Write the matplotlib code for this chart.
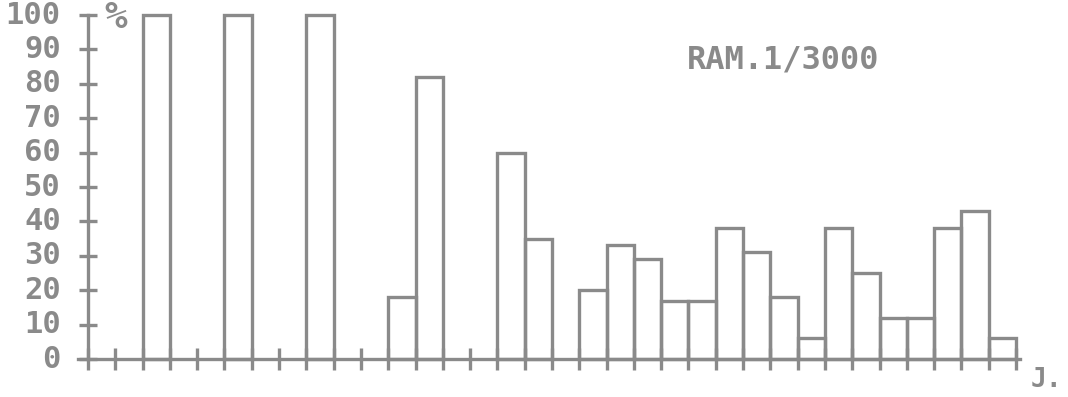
import matplotlib.pyplot as plt

# interval index (left edge, in x tick units) and percentage
bar_pos = [2, 5, 8, 11, 12, 15, 16, 18, 19, 20, 21, 22, 23, 24, 25, 26, 27, 28, 29, 30, 31, 32, 33]
bar_val = [100, 100, 100, 18, 82, 60, 35, 20, 33, 29, 17, 17, 38, 31, 18, 6, 38, 25, 12, 12, 38, 43, 6]
y_ticks = [0, 10, 20, 30, 40, 50, 60, 70, 80, 90, 100]
n_xticks = 35
title = "RAM.1/3000"

ink = '#8a8a8a'
mono = 'DejaVu Sans Mono'

fig = plt.figure(figsize=(10.68, 3.97), dpi=100)
ax = fig.add_axes([88 / 1068, 38 / 397, 928 / 1068, 344 / 397])
ax.set_xlim(0, n_xticks - 1)
ax.set_ylim(0, 100)
ax.axis('off')

# bars as outlined boxes
ax.bar(bar_pos, bar_val, width=1, align='edge', fill=False,
       edgecolor=ink, linewidth=2.4, clip_on=False)

# axes lines
ax.plot([-0.35, n_xticks - 0.85], [0, 0], color=ink, lw=2.4, clip_on=False)
ax.plot([0, 0], [0, 100], color=ink, lw=2.4, clip_on=False)

# ticks
ax.plot(range(n_xticks), [0] * n_xticks, ls='none', marker='|', ms=16,
        mew=2.4, color=ink, clip_on=False)
ax.plot([0] * len(y_ticks), y_ticks, ls='none', marker='_', ms=13,
        mew=2.4, color=ink, clip_on=False)

for v in y_ticks:
    ax.text(-1, v, str(v), ha='right', va='center', fontsize=22,
            family=mono, fontweight='bold', color=ink)

ax.text(1, 99, '%', ha='center', va='center', fontsize=27,
        family=mono, fontweight='bold', color=ink)
ax.text(21.94, 87, title, ha='left', va='center', fontsize=23,
        family=mono, fontweight='bold', color=ink)
ax.text(34.55, -6, 'J.', ha='left', va='center', fontsize=19,
        family=mono, fontweight='bold', color=ink)

fig.savefig('out.png', dpi=100)
